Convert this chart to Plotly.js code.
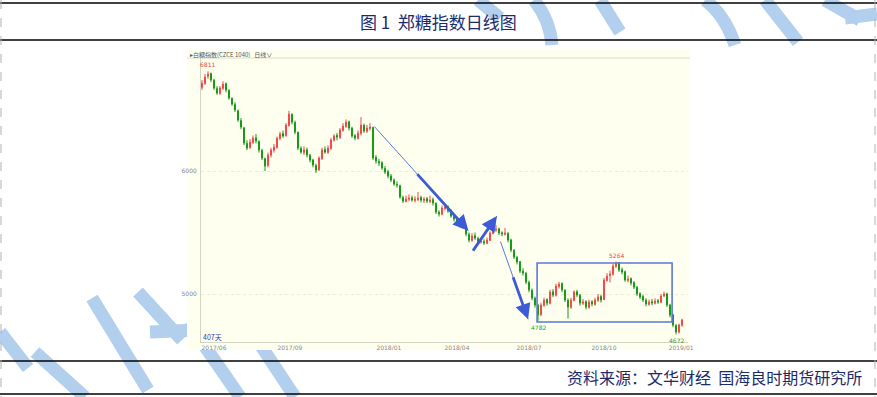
<!DOCTYPE html>
<html><head><meta charset="utf-8">
<script src="https://cdn.plot.ly/plotly-3.0.1.min.js"></script>
<style>html,body{margin:0;padding:0;background:#fff}#chart{width:877px;height:397px}</style>
</head><body><div id="chart"></div>
<script>
// ---- data ----
const closeP = [6715,6764,6789,6740,6675,6634,6675,6707,6659,6593,6545,6496,6415,6358,6228,6187,6236,6268,6244,6171,
6106,6041,6130,6171,6195,6268,6301,6285,6374,6463,6398,6317,6187,6154,6171,6130,6089,6049,6008,6106,
6171,6154,6187,6252,6285,6276,6333,6366,6398,6350,6285,6268,6309,6374,6325,6350,6358,6106,6081,6065,
6024,5992,5959,5927,5894,5886,5789,5756,5772,5780,5764,5772,5780,5764,5772,5756,5764,5740,5667,5650,
5699,5707,5675,5634,5610,5585,5561,5553,5488,5439,5472,5455,5423,5431,5415,5439,5496,5520,5528,5496,
5488,5496,5439,5358,5301,5260,5187,5171,5098,5033,4967,4911,4829,4911,4951,4927,5016,4992,5065,5081,
5033,4951,4894,4951,5016,4992,4927,4935,4894,4935,4919,4951,4976,4951,5114,5146,5163,5228,5252,5195,
5179,5114,5122,5089,5057,5000,4976,4951,4919,4935,4927,4943,4935,4984,5000,4911,4829,4748,4691,4748,4789];
const openP = [6680,6712,6770,6792,6738,6670,6630,6672,6710,6655,6590,6540,6490,6410,6350,6225,6190,6232,6270,6240,
6168,6100,6045,6128,6168,6192,6265,6305,6288,6370,6460,6395,6315,6185,6150,6172,6128,6090,6045,6010,
6100,6175,6150,6185,6250,6290,6272,6330,6362,6400,6348,6288,6265,6305,6372,6322,6345,6355,6110,6078,
6068,6020,5995,5960,5925,5890,5880,5785,5752,5770,5782,5760,5768,5785,5760,5775,5752,5768,5738,5665,
5648,5695,5710,5672,5630,5612,5588,5558,5550,5485,5435,5475,5452,5420,5428,5412,5436,5492,5518,5530,
5498,5485,5492,5440,5355,5298,5262,5185,5168,5095,5030,4965,4908,4832,4908,4955,4925,5018,4990,5062,
5085,5030,4950,4892,4948,5018,4990,4925,4938,4892,4938,4915,4948,4980,4955,5110,5150,5160,5225,5255,
5198,5182,5110,5125,5092,5055,5002,4980,4950,4915,4938,4925,4945,4932,4985,5002,4910,4830,4745,4690,4745];
const highP = [6740,6790,6811,6800,6750,6690,6690,6730,6720,6665,6600,6560,6500,6430,6360,6250,6260,6290,6300,6250,
6180,6110,6150,6190,6220,6280,6320,6330,6390,6490,6470,6410,6320,6200,6200,6190,6140,6100,6060,6120,
6190,6200,6210,6270,6300,6310,6350,6390,6420,6410,6360,6300,6330,6439,6385,6375,6390,6360,6130,6100,
6080,6040,6010,5975,5940,5915,5890,5800,5800,5810,5800,5795,5830,5800,5790,5790,5800,5785,5745,5680,
5720,5730,5720,5690,5645,5630,5600,5580,5560,5500,5495,5500,5465,5455,5445,5460,5510,5540,5560,5540,
5510,5537,5505,5450,5365,5310,5270,5210,5180,5110,5045,4980,4920,4930,4970,4965,5035,5040,5085,5100,
5095,5040,4965,4970,5030,5035,5000,4960,4950,4955,4950,4970,5000,4995,5130,5170,5190,5245,5264,5260,
5215,5190,5150,5135,5105,5065,5015,4995,4965,4955,4960,4965,4960,5000,5020,5010,4920,4840,4755,4760,4800];
const lowP = [6660,6700,6750,6725,6660,6620,6620,6660,6640,6580,6530,6480,6400,6340,6210,6170,6180,6220,6225,6150,
6090,6000,6030,6110,6150,6180,6250,6270,6280,6360,6380,6300,6170,6140,6130,6110,6070,6030,5984,6000,
6090,6140,6140,6170,6240,6250,6260,6320,6350,6330,6270,6250,6255,6290,6310,6310,6330,6090,6060,6040,
6010,5975,5940,5910,5880,5865,5775,5740,5745,5755,5750,5745,5755,5745,5740,5740,5740,5720,5650,5630,
5640,5680,5660,5620,5590,5565,5540,5530,5470,5420,5425,5440,5405,5410,5400,5405,5430,5485,5505,5480,
5470,5475,5420,5340,5285,5240,5170,5150,5080,5015,4950,4890,4782,4820,4895,4905,4915,4975,4980,5045,
5015,4935,4800,4880,4940,4975,4905,4910,4875,4880,4900,4905,4935,4930,4950,5100,5095,5150,5210,5180,
5160,5100,5095,5070,5040,4985,4960,4935,4900,4905,4910,4915,4920,4925,4975,4895,4810,4730,4672,4680,4735];
const tickPos = [4, 29.3, 62.3, 85, 109, 134, 159.7];
const tickText = ['2017/06','2017/09','2018/01','2018/04','2018/07','2018/10','2019/01'];
const yTicks = [5000, 6000];
// marked extremes: [candle index, price, colour]
const marks = [[2, 6811, '#e8453c'], [112, 4782, '#2e9b2e'], [138, 5264, '#e8453c'], [158, 4672, '#2e9b2e']];
// trend arrows: [fromIndex, fromPrice, toIndex, toPrice]
const arrows = [[57, 6374, 88.8, 5515], [90, 5341, 98.3, 5634], [99.3, 5439, 108.7, 4795]];
// range box: [x0, x1, low, high]
const boxRange = [111.7, 156.7, 4772, 5252];

const idx = closeP.map((_, i) => i);

// ---- layout helpers (pixel -> paper) ----
const L = 201, W = 487, T = 58, H = 284;
const PX = x => (x - L) / W;
const PY = y => (T + H - y) / H;

const blue = '#b3cfee';
const wm = [
  'M{478,0} L{500,18}', 'M{534,0} Q{550,20} {552,45}', 'M{600,0} L{620,32}', 'M{705,0} Q{725,15} {735,45}',
  'M{765,0} L{798,42}', 'M{825,0} L{860,20}', 'M{845,18} L{877,14}',
  'M{35,352} L{85,397}', 'M{92,298} L{148,390}', 'M{138,292} L{182,340}', 'M{188,322} L{240,397}',
  'M{232,302} L{295,397}', 'M{0,332} L{28,368}', 'M{150,332} L{198,330}'
];
function pathConv(s){
  return s.replace(/\{(\d+),(\d+)\}/g, (m, a, b) => PX(+a).toFixed(4) + ',' + PY(+b).toFixed(4));
}
const shapes = [];
wm.forEach(p => shapes.push({type:'path', xref:'paper', yref:'paper', layer:'below', path: pathConv(p),
  line:{color: blue, width: 13}}));
shapes.push({type:'rect', xref:'paper', yref:'paper', layer:'below', x0:PX(187), x1:PX(690), y0:PY(350), y1:PY(50),
  fillcolor:'#fffff0', line:{width:0}});
shapes.push({type:'line', xref:'paper', yref:'paper', x0:PX(187), x1:PX(690), y0:PY(58), y1:PY(58), line:{color:'#dcdccc', width:1}});
[3, 40, 361, 394].forEach(y => shapes.push({type:'line', xref:'paper', yref:'paper', x0:PX(0), x1:PX(877), y0:PY(y), y1:PY(y), line:{color:'#000', width:1.6}}));
[1, 875].forEach(x => shapes.push({type:'line', xref:'paper', yref:'paper', x0:PX(x), x1:PX(x), y0:PY(0), y1:PY(397), line:{color:'#b0b0b0', width:1, dash:'dash'}}));
shapes.push({type:'rect', xref:'x', yref:'y', x0:boxRange[0], x1:boxRange[1], y0:boxRange[2], y1:boxRange[3],
  line:{color:'#5a78d8', width:1.6}, fillcolor:'rgba(0,0,0,0)'});

const annotations = [];
annotations.push({xref:'paper', yref:'paper', x:PX(438), y:PY(21), text:'图 1  郑糖指数日线图', showarrow:false,
  font:{family:'Noto Sans CJK SC', size:17, color:'#1c2a6b'}, xanchor:'center', yanchor:'middle'});
annotations.push({xref:'paper', yref:'paper', x:PX(864), y:PY(377), text:'资料来源：文华财经  国海良时期货研究所', showarrow:false,
  font:{family:'Noto Sans CJK SC', size:16, color:'#1c2a6b'}, xanchor:'right', yanchor:'middle'});
annotations.push({xref:'paper', yref:'paper', x:PX(188), y:PY(54), text:'▸白糖指数(CZCE 1040)   日线∨', showarrow:false,
  font:{family:'Noto Sans CJK SC', size:6, color:'#555'}, xanchor:'left', yanchor:'middle'});
annotations.push({xref:'paper', yref:'paper', x:PX(201), y:PY(337), text:'407天', showarrow:false,
  font:{family:'Noto Sans CJK SC', size:7, color:'#3a3aa8'}, xanchor:'left', yanchor:'middle'});
marks.forEach(m => {
  const up = m[2] === '#e8453c';
  annotations.push({xref:'x', yref:'y', x:m[0], y:m[1], text:String(m[1]), showarrow:false,
    font:{family:'DejaVu Sans', size:6, color:m[2]}, xanchor:'center', yanchor: up ? 'bottom' : 'top', yshift: up ? 1 : -1});
});
arrows.forEach((a, k) => {
  const f = k === 1 ? 0.0 : 0.45;
  const mx = a[0] + (a[2] - a[0]) * f, my = a[1] + (a[3] - a[1]) * f;
  annotations.push({xref:'x', yref:'y', axref:'x', ayref:'y', x:a[2], y:a[3], ax:a[0], ay:a[1], text:'', showarrow:true,
    arrowhead:0, arrowwidth:0.9, arrowcolor:'#4a66d8'});
  annotations.push({xref:'x', yref:'y', axref:'x', ayref:'y', x:a[2], y:a[3], ax:mx, ay:my, text:'', showarrow:true,
    arrowhead:2, arrowsize:1.1, arrowwidth:2.8, arrowcolor:'#3d5bd6'});
});

const trace = {
  type:'candlestick', x: idx, open: openP, high: highP, low: lowP, close: closeP,
  increasing:{line:{color:'#f04a4a', width:1}, fillcolor:'#f26262'},
  decreasing:{line:{color:'#17991b', width:1}, fillcolor:'#17991b'},
  whiskerwidth:0, hoverinfo:'none'
};

const layout = {
  width:877, height:397, margin:{l:201, r:189, t:58, b:55},
  paper_bgcolor:'#ffffff', plot_bgcolor:'rgba(0,0,0,0)', showlegend:false, boxgap:0.5,
  xaxis:{range:[-0.33, 162.0], tickvals:tickPos, ticktext:tickText, showgrid:false, zeroline:false,
    showline:true, linecolor:'#d4d4c4', linewidth:1, ticks:'', tickfont:{family:'DejaVu Sans', size:6, color:'#888'},
    rangeslider:{visible:false}, fixedrange:true},
  yaxis:{range:[4610, 6919], tickvals:yTicks, ticktext:yTicks.map(String), showgrid:true, gridcolor:'#ebebd8', griddash:'dot',
    zeroline:false, showline:true, linecolor:'#d4d4c4', linewidth:1, ticks:'', ticklabelstandoff:2,
    tickfont:{family:'DejaVu Sans', size:6, color:'#888'}, fixedrange:true},
  shapes: shapes, annotations: annotations
};
Plotly.newPlot('chart', [trace], layout, {displayModeBar:false, staticPlot:true});
</script></body></html>
